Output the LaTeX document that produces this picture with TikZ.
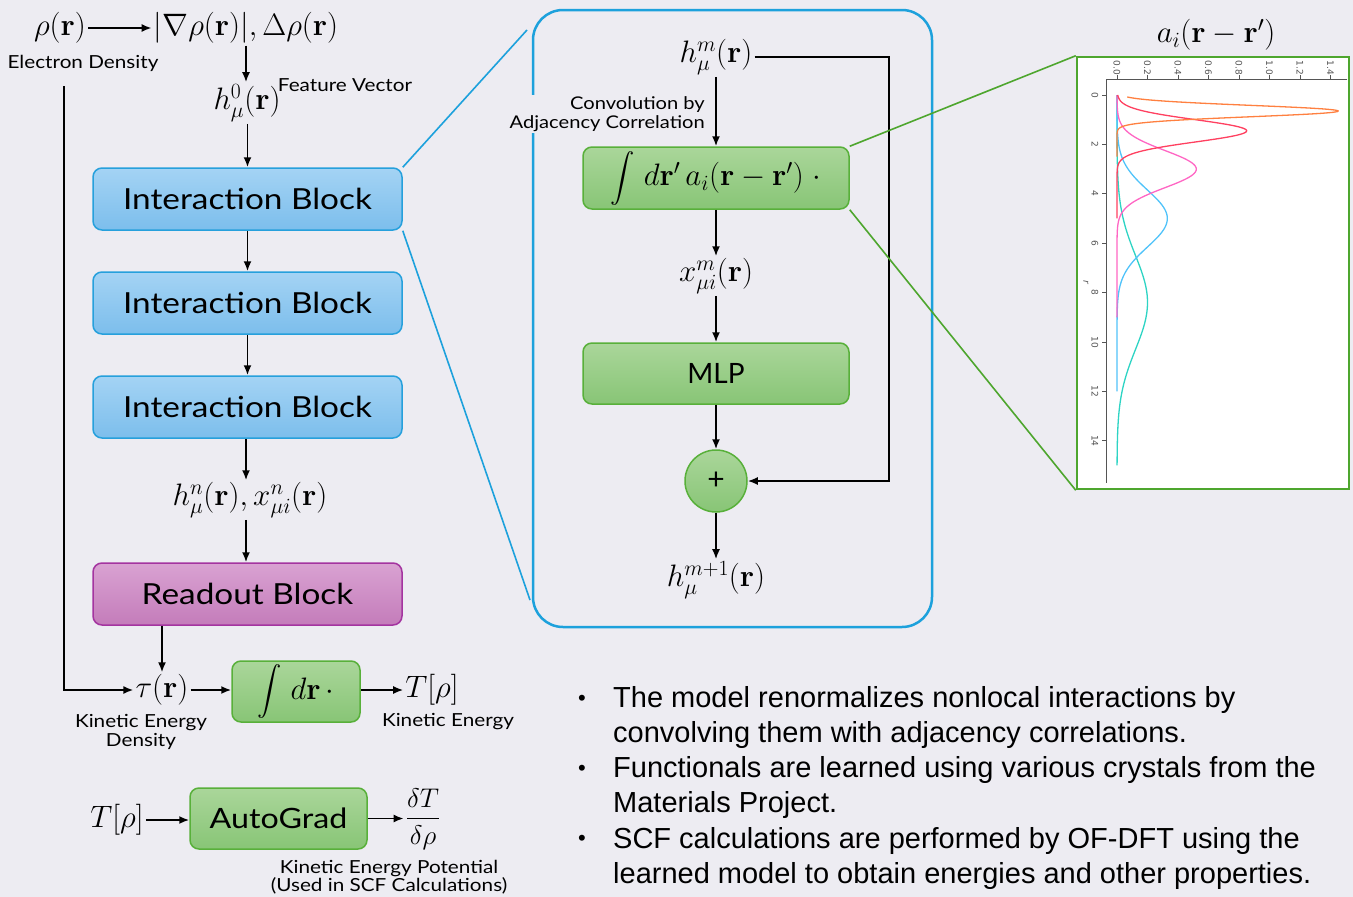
\RequirePackage{fix-cm}
\documentclass[tikz,border=0pt]{standalone}
\usepackage{amsmath}
\usepackage{graphicx}
\usepackage[no-math]{fontspec}
\newfontfamily\labelfont[FakeStretch=1.15]{Lato}
\newfontfamily\plainlabel{Lato}
\newfontfamily\bulletfont{Liberation Sans}
\newfontfamily\tickfont{DejaVu Sans}
\usetikzlibrary{arrows.meta}

\definecolor{bg}{RGB}{237,236,242}
\definecolor{blueTop}{RGB}{164,211,244}
\definecolor{blueBot}{RGB}{124,190,236}
\definecolor{blueEdge}{RGB}{38,160,220}
\definecolor{greenTop}{RGB}{170,214,154}
\definecolor{greenBot}{RGB}{136,197,118}
\definecolor{greenEdge}{RGB}{88,176,58}
\definecolor{pinkTop}{RGB}{217,162,210}
\definecolor{pinkBot}{RGB}{196,124,186}
\definecolor{pinkEdge}{RGB}{164,52,160}
\definecolor{panelEdge}{RGB}{29,161,220}
\definecolor{zoomGreen}{RGB}{78,166,46}
\definecolor{cOrange}{RGB}{255,128,64}
\definecolor{cRed}{RGB}{255,64,96}
\definecolor{cPink}{RGB}{255,102,196}
\definecolor{cBlue}{RGB}{80,195,250}
\definecolor{cCyan}{RGB}{45,212,196}
\definecolor{axisGray}{RGB}{85,85,85}

% a tall integral sign, centred on the math axis, for use inside the boxes
\newcommand{\boxint}{$\vcenter{\hbox{\resizebox*{!}{54pt}{$\displaystyle\int$}}}$}

\begin{document}
\begin{tikzpicture}[x=1pt,y=-1pt,
  mth/.style={inner sep=2pt, font=\fontsize{31}{36}\selectfont},
  lbl/.style={inner sep=0pt, font=\labelfont\fontsize{18}{20}\selectfont, align=center},
  blk/.style={rounded corners=9pt, line width=1.5pt, inner sep=0pt,
    minimum width=309pt, minimum height=62pt, font=\labelfont\fontsize{29}{32}\selectfont},
  blueblk/.style={blk, draw=blueEdge, top color=blueTop, bottom color=blueBot},
  pinkblk/.style={blk, draw=pinkEdge, top color=pinkTop, bottom color=pinkBot},
  greenblk/.style={blk, draw=greenEdge, top color=greenTop, bottom color=greenBot},
  arr/.style={-{Latex[length=10pt,width=8pt]}, line width=1.8pt},
  zoomline/.style={line width=1.6pt},
  curve/.style={line width=1.3pt, samples=160},
  tick/.style={inner sep=0pt, font=\tickfont\fontsize{9}{10}\selectfont, text=axisGray, rotate=-90},
  bullettxt/.style={inner sep=0pt, font=\bulletfont\fontsize{29}{35}\selectfont, align=left}]

\fill[bg] (0,0) rectangle (1353,897);
\useasboundingbox (0,0) rectangle (1353,897);

% ---------- left column: the network ----------
\node[mth] (rho) at (60,28) {$\rho(\mathbf{r})$};
\node[mth] (grad) at (246,28) {$|\nabla\rho(\mathbf{r})|,\Delta\rho(\mathbf{r})$};
\draw[arr] (rho) -- (grad);
\node[lbl] (ed) at (83,63) {Electron Density};

\node[mth] (h0) at (247,103) {$h^{0}_{\mu}(\mathbf{r})$};
\node[lbl] (fv) at (345,85) {Feature Vector};
\draw[arr] (grad.south) -- (grad.south |- h0.north);

\node[blueblk] (ib1) at (247.5,199) {Interaction Block};
\node[blueblk] (ib2) at (247.5,303) {Interaction Block};
\node[blueblk] (ib3) at (247.5,407) {Interaction Block};
\draw[arr] (h0.south -| ib1.north) -- (ib1.north);
\draw[arr] (ib1.south) -- (ib2.north);
\draw[arr] (ib2.south) -- (ib3.north);

\node[mth] (hn) at (250,500) {$h^{n}_{\mu}(\mathbf{r}),x^{n}_{\mu i}(\mathbf{r})$};
\draw[arr] ([xshift=-1.5pt]ib3.south) -- ([xshift=-1.5pt]ib3.south |- hn.north);

\node[pinkblk] (ro) at (247.5,594) {Readout Block};
\draw[arr] ([xshift=-1.5pt]ib3.south |- hn.south) -- ([xshift=-1.5pt]ro.north);

% kinetic energy density and its integral
\node[mth] (tau) at (162,690) {$\tau(\mathbf{r})$};
\draw[arr] (ro.south -| tau) -- (tau.north);
\coordinate (edtop) at (64,86);
\draw[arr] (edtop) |- (tau.west);
\node[lbl] (ked) at (141,732) {Kinetic Energy\\[-1pt]Density};

\node[greenblk, minimum width=128pt, minimum height=61pt, font=\fontsize{31}{36}\selectfont]
  (intr) at (296,691.5) {\boxint$\;d\mathbf{r}\,\cdot$};
\draw[arr] (tau.east) -- (intr.west |- tau.east);
\node[mth] (T1) at (432,690) {$T[\rho]$};
\draw[arr] (intr.east |- T1.west) -- (T1.west);
\node[lbl] (ke) at (448,722) {Kinetic Energy};

% functional derivative
\node[mth] (T2) at (117,820) {$T[\rho]$};
\node[greenblk, minimum width=177pt, minimum height=61pt,
  font=\labelfont\fontsize{28}{32}\selectfont] (ag) at (278.5,818.5) {AutoGrad};
\draw[arr] (T2.east) -- (ag.west |- T2.east);
\node[mth, font=\fontsize{27}{32}\selectfont] (dT) at (423,819) {$\dfrac{\delta T}{\delta\rho}$};
\draw[arr] (ag.east) -- (dT.west |- ag.east);
\node[lbl] (kep) at (389,877) {Kinetic Energy Potential\\[-2pt](Used in SCF Calculations)};

% ---------- middle: inside one interaction block ----------
\draw[panelEdge, line width=2.5pt, rounded corners=30pt] (533,10) rectangle (932,627);
\coordinate (zt) at (527,30);
\coordinate (zb) at (530,600);
\draw[panelEdge, zoomline] (ib1.north east) -- (zt);
\draw[panelEdge, zoomline] (ib1.south east) -- (zb);

\node[mth] (hm) at (716,57) {$h^{m}_{\mu}(\mathbf{r})$};
\node[greenblk, minimum width=266pt, font=\fontsize{31}{36}\selectfont] (conv) at (716,178)
  {\boxint$\;d\mathbf{r}'\,a_i(\mathbf{r}-\mathbf{r}')\;\cdot$};
\draw[arr] (hm.south) -- (conv.north);
\node[lbl, anchor=east, align=right, fill=bg, inner sep=1pt,
  font=\labelfont\fontsize{17.5}{19.5}\selectfont]
  (convlbl) at (706,114) {Convolution by\\Adjacency Correlation};

\node[mth] (xm) at (716,276) {$x^{m}_{\mu i}(\mathbf{r})$};
\draw[arr] (conv.south) -- (xm.north);
\node[greenblk, minimum width=266pt, minimum height=61pt,
  font=\plainlabel\fontsize{28}{32}\selectfont] (mlp) at (716,373.5) {MLP};
\draw[arr] (xm.south) -- (mlp.north);
\node[circle, draw=greenEdge, line width=1.5pt, top color=greenTop, bottom color=greenBot,
  minimum size=62pt, inner sep=0pt, font=\plainlabel\fontsize{30}{32}\selectfont] (plus) at (716,481) {+};
\draw[arr] (mlp.south) -- (plus.north);
\node[mth] (hm1) at (716,580) {$h^{m+1}_{\mu}(\mathbf{r})$};
\draw[arr] (plus.south) -- (hm1.north);
\coordinate (skip) at (889,57);
\draw[arr] (hm.east) -- (hm.east -| skip) |- (plus.east);

% ---------- right: adjacency correlation functions ----------
\node[draw=zoomGreen, fill=white, line width=2.5pt, minimum width=272pt, minimum height=432pt,
  inner sep=0pt] (pbox) at (1213,273) {};
\draw[zoomGreen, zoomline] (conv.north east) -- (pbox.north west);
\draw[zoomGreen, zoomline] (conv.south east) -- (pbox.south west);
\node[mth] (atitle) at (1216,35) {$a_i(\mathbf{r}-\mathbf{r}')$};

% axes (value to the right, r downwards)
\draw[axisGray, line width=0.9pt] (1347,79) -- (1106,79) -- (1106,483);
\foreach \v/\t in {0/0.0,1/0.2,2/0.4,3/0.6,4/0.8,5/1.0,6/1.2,7/1.4} {
  \draw[axisGray, line width=0.7pt] (1117+30.5*\v,79) -- (1117+30.5*\v,75);
  \node[tick] at (1117+30.5*\v,68) {\t};
}
\foreach \r in {0,2,4,6,8,10,12,14} {
  \draw[axisGray, line width=0.7pt] (1106,95+24.7*\r) -- (1102,95+24.7*\r);
  \node[tick] at (1095,95+24.7*\r) {\r};
}
\node[tick, font=\tickfont\itshape\fontsize{9}{10}\selectfont] at (1086,282) {r};

\draw[cCyan, curve, domain=0:15] plot ({1117+152.5*0.2*exp(-((\x-8.4)^2)/(2*1.9^2))}, {95+24.7*\x});
\draw[cBlue, curve, domain=0:12] plot ({1117+152.5*0.33*exp(-((\x-5.0)^2)/(2*1.15^2))}, {95+24.7*\x});
\draw[cPink, curve, domain=0:9] plot ({1117+152.5*0.52*exp(-((\x-3.0)^2)/(2*0.75^2))}, {95+24.7*\x});
\draw[cRed, curve, domain=0:5] plot ({1117+152.5*0.85*exp(-((\x-1.45)^2)/(2*0.45^2))}, {95+24.7*\x});
\draw[cOrange, curve, domain=0.08:2.5] plot ({1117+152.5*1.45*exp(-((\x-0.65)^2)/(2*0.23^2))}, {95+24.7*\x});

% ---------- summary ----------
\node[bullettxt, anchor=west] (b1) at (613,717.5)
  {The model renormalizes nonlocal interactions by\\convolving them with adjacency correlations.};
\node[bullettxt, anchor=west] (b2) at (613,787.5)
  {Functionals are learned using various crystals from the\\Materials Project.};
\node[bullettxt, anchor=west] (b3) at (613,858)
  {SCF calculations are performed by OF-DFT using the\\learned model to obtain energies and other properties.};
\foreach \y in {700,770,840} \node[bullettxt, font=\bulletfont\fontsize{22}{24}\selectfont] at (582,\y) {•};
\end{tikzpicture}
\end{document}
